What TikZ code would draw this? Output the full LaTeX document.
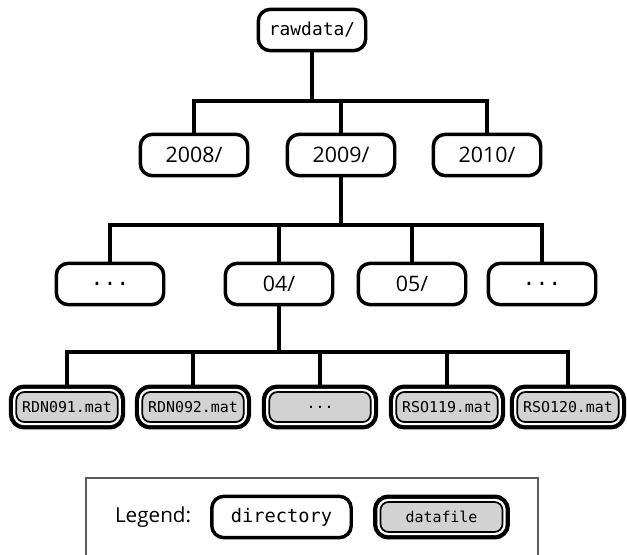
\documentclass[tikz,border=0pt]{standalone}
\usepackage{fontspec}
\setmainfont{Open Sans}
\setmonofont{DejaVu Sans Mono}
\usepackage{tikz}
\usetikzlibrary{positioning}
\definecolor{filegray}{RGB}{210,210,210}
\definecolor{framegray}{RGB}{90,90,90}

\begin{document}
\begin{tikzpicture}[x=0.75pt, y=-0.75pt,
    dir/.style={draw, line width=2.6pt, rounded corners=9pt, fill=white, minimum width=80.6pt, minimum height=31pt, inner sep=0pt, font=\fontsize{16}{19}\selectfont},
    datafile/.style={draw, line width=1.3pt, rounded corners=6pt, fill=filegray, minimum width=76pt, minimum height=22.5pt, inner sep=0pt, font=\ttfamily\fontsize{11.2}{13}\selectfont, preaction={draw=black, line width=11.2pt}, preaction={draw=white, line width=4.8pt}},
    link/.style={line width=3.4pt}]
    \useasboundingbox (0,0) rectangle (627,555);

    \node [dir, font=\ttfamily\fontsize{13.4}{16}\selectfont] (rawdata) at (312,30) {rawdata/};

    \node [dir] (y2008) at (194,155) {2008/};
    \node [dir] (y2009) at (341,155) {2009/};
    \node [dir] (y2010) at (487,155) {2010/};

    \node [dir] (dotsa) at (110,284) {\ttfamily ...};
    \node [dir] (m04) at (279,284) {04/};
    \node [dir] (m05) at (412,284) {05/};
    \node [dir] (dotsb) at (542,284) {\ttfamily ...};

    \node [datafile] (f1) at (67,407) {RDN091.mat};
    \node [datafile] (f2) at (193,407) {RDN092.mat};
    \node [datafile] (f3) at (320,407) {...};
    \node [datafile] (f4) at (447,407) {RSO119.mat};
    \node [datafile] (f5) at (568,407) {RSO120.mat};

    \coordinate (bus1) at (0,101);
    \coordinate (bus2) at (0,225);
    \coordinate (bus3) at (0,352);

    \draw [link] (rawdata.south) -- (rawdata |- bus1);
    \draw [link] (y2008.north) |- (y2010.north |- bus1) -- (y2010.north);
    \draw [link] (y2009.north) -- (y2009 |- bus1);

    \draw [link] (y2009.south) -- (y2009 |- bus2);
    \draw [link] (dotsa.north) |- (dotsb.north |- bus2) -- (dotsb.north);
    \draw [link] (m04.north) -- (m04 |- bus2);
    \draw [link] (m05.north) -- (m05 |- bus2);

    \draw [link] (m04.south) -- (m04 |- bus3);
    \draw [link, shorten <=4pt, shorten >=4pt] (f1.north) |- (f5.north |- bus3) -- (f5.north);
    \foreach \f in {f2,f3,f4}
        \draw [link, shorten <=4pt] (\f.north) -- (\f |- bus3);

    \draw [framegray, line width=1.5pt] (86,555) |- (538,478) -- (538,555);
    \node [dir, minimum width=104.6pt, font=\ttfamily\fontsize{14}{17}\selectfont] (legdir) at (281.5,517) {directory};
    \node [left=14pt of legdir, inner sep=0pt, font=\fontsize{15.5}{18}\selectfont] (legtext) {Legend:};
    \node [datafile, minimum width=91.5pt, right=20pt of legdir] (legfile) {datafile};
\end{tikzpicture}
\end{document}
